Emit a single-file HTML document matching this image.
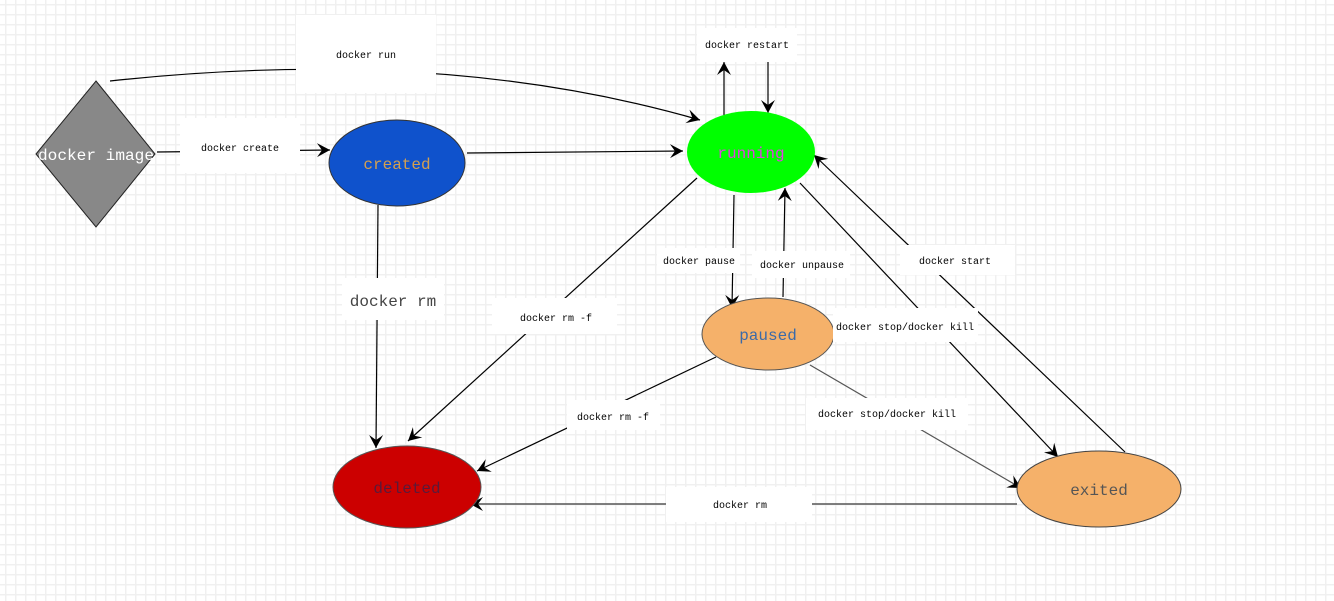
<!DOCTYPE html>
<html><head><meta charset="utf-8"><style>
html,body{margin:0;padding:0;background:#fff;}
svg{display:block;}
text{font-family:"Liberation Mono","Noto Serif CJK SC",monospace;}
</style></head><body>
<svg width="1334" height="601" viewBox="0 0 1334 601" xmlns="http://www.w3.org/2000/svg">
<defs>
<pattern id="g" x="5" y="4" width="10" height="10" patternUnits="userSpaceOnUse">
<rect x="0" y="0" width="1.5" height="10" fill="#f0f0f0"/>
<rect x="0" y="0" width="10" height="1.5" fill="#f0f0f0"/>
</pattern>
<marker id="a" markerWidth="16" markerHeight="16" refX="14" refY="8" orient="auto" markerUnits="userSpaceOnUse">
<path d="M1,1 L14,8 L1,15 L6,8 Z" fill="#000"/>
</marker>
</defs>
<rect width="1334" height="601" fill="url(#g)"/>

<g stroke="#000" stroke-width="1.2" fill="none">
<path d="M110,81 Q440,45 700,120" marker-end="url(#a)"/>
<line x1="157" y1="152" x2="330" y2="150" marker-end="url(#a)"/>
<line x1="467" y1="153" x2="683" y2="151" marker-end="url(#a)"/>
<line x1="724" y1="115" x2="724" y2="62" marker-end="url(#a)"/>
<line x1="768" y1="62" x2="768" y2="113" marker-end="url(#a)"/>
<line x1="378" y1="205" x2="376" y2="448" marker-end="url(#a)"/>
<line x1="697" y1="178" x2="408" y2="441" marker-end="url(#a)"/>
<line x1="734" y1="195" x2="732" y2="308" marker-end="url(#a)"/>
<line x1="783" y1="297" x2="785" y2="188" marker-end="url(#a)"/>
<line x1="800" y1="183" x2="1058" y2="457" marker-end="url(#a)"/>
<line x1="1125" y1="452" x2="814" y2="155" marker-end="url(#a)"/>
<line x1="716" y1="357" x2="477" y2="471" marker-end="url(#a)"/>
<line x1="810" y1="365" x2="1021" y2="488" stroke="#555" marker-end="url(#a)"/>
<line x1="1017" y1="504" x2="470" y2="504" stroke="#555" stroke-width="1.5" marker-end="url(#a)"/>
</g>

<polygon points="96,81 155,154 96,227 36,154" fill="#888" stroke="#222" stroke-width="1"/>
<text x="96" y="160" font-size="16" fill="#fff" text-anchor="middle" textLength="116" lengthAdjust="spacingAndGlyphs">docker image</text>

<ellipse cx="397" cy="163" rx="68" ry="43" fill="#0f52cc" stroke="#333"/>
<text x="397" y="169" font-size="16" fill="#d4a050" text-anchor="middle">created</text>
<ellipse cx="751" cy="152" rx="64" ry="41" fill="#00ff00"/>
<text x="751" y="158" font-size="16" fill="#e040e0" text-anchor="middle">running</text>
<ellipse cx="768" cy="334" rx="66" ry="36" fill="#f5b16a" stroke="#555"/>
<text x="768" y="340" font-size="16" fill="#3b6aa8" text-anchor="middle">paused</text>
<ellipse cx="407" cy="487" rx="74" ry="41" fill="#cc0000" stroke="#555"/>
<text x="407" y="493" font-size="16" fill="#5a1a3a" text-anchor="middle">deleted</text>
<ellipse cx="1099" cy="489" rx="82" ry="38" fill="#f5b16a" stroke="#444"/>
<text x="1099" y="495" font-size="16" fill="#555" text-anchor="middle">exited</text>

<g fill="#fff">
<rect x="296" y="15" width="140" height="78"/>
<rect x="180" y="118" width="120" height="55"/>
<rect x="697" y="28" width="100" height="34"/>
<rect x="342" y="278" width="102" height="42"/>
<rect x="492" y="298" width="125" height="36"/>
<rect x="657" y="248" width="83" height="25"/>
<rect x="752" y="251" width="98" height="27"/>
<rect x="833" y="308" width="145" height="34"/>
<rect x="900" y="245" width="115" height="30"/>
<rect x="567" y="400" width="93" height="30"/>
<rect x="806" y="398" width="162" height="32"/>
<rect x="666" y="487" width="146" height="35"/>
</g>
<g font-size="10" fill="#000" text-anchor="middle">
<text x="366" y="58">docker run</text>
<text x="240" y="151">docker create</text>
<text x="747" y="48">docker restart</text>
<text x="556" y="321">docker rm -f</text>
<text x="699" y="264">docker pause</text>
<text x="802" y="268">docker unpause</text>
<text x="905" y="330">docker stop/docker kill</text>
<text x="955" y="264">docker start</text>
<text x="613" y="420">docker rm -f</text>
<text x="887" y="417">docker stop/docker kill</text>
<text x="740" y="508">docker rm</text>
</g>
<text x="393" y="306" font-size="16" fill="#444" text-anchor="middle">docker rm</text>
</svg>
</body></html>
